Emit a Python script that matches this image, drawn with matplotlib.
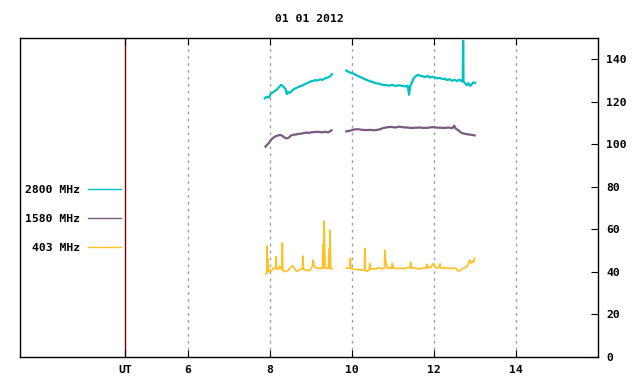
import matplotlib
matplotlib.use("Agg")
import matplotlib.pyplot as plt

# 2800 MHz (two segments, hours UT / flux)
t_2800_a = [7.87, 7.92, 7.97, 8.02, 8.07, 8.12, 8.17, 8.22, 8.27, 8.30, 8.34, 8.38, 8.41, 8.44, 8.48, 8.52,
            8.57, 8.62, 8.68, 8.74, 8.80, 8.86, 8.92, 8.98, 9.04, 9.10, 9.16, 9.22, 9.28, 9.34, 9.40, 9.46, 9.51]
v_2800_a = [121.6, 122.4, 122.0, 123.8, 124.4, 125.2, 125.8, 126.9, 128.0, 127.6, 126.8, 125.9, 123.6, 124.6,
            124.2, 125.0, 125.8, 126.3, 126.9, 127.3, 127.8, 128.4, 128.9, 129.5, 129.8, 130.2, 130.0, 130.6,
            130.3, 131.0, 131.4, 131.9, 133.0]
t_2800_b = [9.86, 9.92, 9.98, 10.04, 10.10, 10.16, 10.22, 10.28, 10.35, 10.42, 10.50, 10.58, 10.66, 10.74,
            10.82, 10.90, 10.98, 11.06, 11.14, 11.22, 11.30, 11.36, 11.39, 11.42, 11.46, 11.50, 11.55, 11.60,
            11.66, 11.72, 11.78, 11.84, 11.90, 11.96, 12.02, 12.08, 12.14, 12.20, 12.26, 12.32, 12.38, 12.44,
            12.50, 12.56, 12.62, 12.68, 12.70, 12.71, 12.72, 12.76, 12.80, 12.84, 12.88, 12.92, 12.96, 13.00]
v_2800_b = [134.7, 134.0, 133.6, 133.2, 132.5, 132.0, 131.5, 130.9, 130.4, 129.8, 129.3, 128.7, 128.5, 128.0,
            127.9, 127.6, 128.0, 127.4, 127.8, 127.5, 127.2, 127.6, 123.3, 127.4, 129.0, 131.0, 132.0, 132.6,
            132.3, 132.0, 131.6, 132.2, 131.4, 131.8, 131.5, 131.0, 131.3, 130.7, 130.9, 130.2, 130.6, 129.9,
            130.3, 129.8, 130.4, 129.6, 129.8, 148.7, 129.5, 128.6, 127.8, 128.8, 127.5, 128.2, 129.2, 128.8]

# 1580 MHz
t_1580_a = [7.89, 7.93, 7.97, 8.01, 8.05, 8.10, 8.15, 8.20, 8.25, 8.30, 8.35, 8.40, 8.45, 8.50, 8.56, 8.62,
            8.70, 8.78, 8.86, 8.94, 9.02, 9.10, 9.18, 9.26, 9.34, 9.42, 9.50]
v_1580_a = [98.9, 99.8, 100.6, 101.8, 102.6, 103.4, 103.9, 104.2, 104.4, 104.0, 103.2, 102.8, 103.0, 104.0,
            104.5, 104.6, 104.9, 105.1, 105.5, 105.4, 105.7, 105.8, 105.9, 105.6, 105.9, 105.6, 106.6]
t_1580_b = [9.86, 9.95, 10.05, 10.15, 10.25, 10.35, 10.45, 10.55, 10.65, 10.75, 10.85, 10.95, 11.05, 11.15,
            11.25, 11.35, 11.45, 11.55, 11.65, 11.75, 11.85, 11.95, 12.05, 12.15, 12.25, 12.35, 12.45, 12.49,
            12.53, 12.60, 12.67, 12.74, 12.82, 12.90, 12.99]
v_1580_b = [106.1, 106.4, 107.0, 107.1, 106.8, 106.7, 106.8, 106.6, 106.9, 107.6, 108.0, 108.2, 107.9, 108.3,
            108.0, 107.9, 107.7, 107.8, 107.9, 107.7, 107.8, 108.1, 107.9, 107.8, 107.7, 107.9, 107.6, 108.8,
            107.4, 106.5, 105.4, 105.0, 104.7, 104.5, 104.2]

# 403 MHz
t_403_a = [7.89, 7.92, 7.93, 7.94, 7.95, 7.96, 7.99, 8.03, 8.08, 8.14, 8.15, 8.16, 8.20, 8.24, 8.29, 8.30,
           8.31, 8.36, 8.42, 8.48, 8.54, 8.59, 8.64, 8.70, 8.76, 8.79, 8.80, 8.81, 8.86, 8.92, 8.98, 9.03,
           9.05, 9.07, 9.12, 9.18, 9.24, 9.28, 9.29, 9.30, 9.32, 9.34, 9.38, 9.42, 9.44, 9.45, 9.46, 9.48, 9.51]
v_403_a = [39.0, 39.6, 52.2, 40.2, 46.0, 40.0, 40.8, 40.5, 41.8, 41.5, 47.2, 42.0, 41.2, 42.6, 41.0, 53.6,
           40.8, 40.1, 40.5, 41.5, 42.9, 42.0, 40.4, 40.7, 41.5, 41.2, 47.5, 41.4, 41.0, 40.6, 40.9, 42.5,
           45.6, 43.0, 42.0, 41.6, 41.8, 41.6, 52.7, 41.8, 63.9, 42.0, 41.6, 41.8, 50.8, 41.6, 59.7, 42.0, 41.4]
t_403_b = [9.86, 9.92, 9.95, 9.96, 9.97, 10.02, 10.10, 10.18, 10.25, 10.30, 10.31, 10.32, 10.38, 10.42,
           10.43, 10.44, 10.50, 10.58, 10.66, 10.74, 10.79, 10.80, 10.81, 10.86, 10.92, 10.97, 10.98, 11.02,
           11.10, 11.18, 11.26, 11.34, 11.42, 11.43, 11.44, 11.50, 11.58, 11.66, 11.74, 11.82, 11.83, 11.86,
           11.92, 11.98, 12.04, 12.10, 12.15, 12.16, 12.22, 12.30, 12.38, 12.46, 12.54, 12.59, 12.64, 12.70,
           12.75, 12.80, 12.84, 12.87, 12.90, 12.93, 12.96, 12.99]
v_403_b = [41.7, 41.8, 42.0, 46.4, 41.6, 41.4, 41.0, 41.2, 40.9, 41.0, 51.1, 40.6, 40.4, 41.0, 44.0, 41.2,
           41.6, 41.4, 42.0, 41.5, 41.8, 50.3, 46.0, 41.8, 42.0, 41.5, 44.0, 41.7, 41.6, 41.8, 41.5, 42.0,
           42.2, 44.5, 41.8, 42.0, 41.6, 41.5, 41.8, 42.0, 43.6, 41.9, 42.2, 44.0, 42.0, 41.8, 43.8, 42.0,
           41.7, 41.9, 41.6, 41.8, 41.5, 40.4, 40.6, 41.6, 42.0, 42.4, 44.0, 45.6, 44.2, 45.0, 44.6, 46.5]

ut_pos = 4.46
x_ticks = [ut_pos, 6, 8, 10, 12, 14]
x_labels = ["UT", "6", "8", "10", "12", "14"]
y_ticks = [0, 20, 40, 60, 80, 100, 120, 140]
title = "01 01 2012"

c2800 = "#00c0c0"
c1580 = "#7a5a80"
c403 = "#ffc020"

plt.rcParams["font.family"] = "DejaVu Sans Mono"
plt.rcParams["font.weight"] = "bold"
plt.rcParams["font.size"] = 8.2

fig = plt.figure(figsize=(6.4, 3.84), dpi=100)
ax = fig.add_axes([20/640, 1-357/384, 578/640, 319/384])
ax.set_xlim(1.9, 16)
ax.set_ylim(0, 150)

for x in x_ticks[1:]:
    ax.axvline(x, color="#a0a0a0", lw=1, ls=(0, (2, 3)), zorder=1)
ax.axvline(ut_pos, color="#800000", lw=1, zorder=1)

ax.plot(t_2800_a, v_2800_a, color=c2800, lw=1.6, label="2800 MHz")
ax.plot(t_2800_b, v_2800_b, color=c2800, lw=1.6)
ax.plot(t_1580_a, v_1580_a, color=c1580, lw=1.6, label="1580 MHz")
ax.plot(t_1580_b, v_1580_b, color=c1580, lw=1.6)
ax.plot(t_403_a, v_403_a, color=c403, lw=1.2, label="403 MHz")
ax.plot(t_403_b, v_403_b, color=c403, lw=1.2)

ax.set_xticks(x_ticks)
ax.set_xticklabels(x_labels)
ax.set_yticks(y_ticks)
ax.yaxis.tick_right()
ax.tick_params(axis="y", direction="in", length=5, pad=6, left=False, right=True)
ax.tick_params(axis="x", direction="in", length=5, pad=6, top=True, bottom=True)
for s in ax.spines.values():
    s.set_linewidth(1)

leg = ax.legend(loc="upper right", bbox_to_anchor=(121/640, 1-185/384), bbox_transform=fig.transFigure,
                frameon=False, markerfirst=False, handlelength=2.9, handletextpad=0.7,
                labelspacing=1.68, borderpad=0, borderaxespad=0)
for h in leg.get_lines():
    h.set_linewidth(1)

fig.text(309/640, 1-19/384, title, ha="center", va="center")

fig.savefig("out.png", dpi=100)
